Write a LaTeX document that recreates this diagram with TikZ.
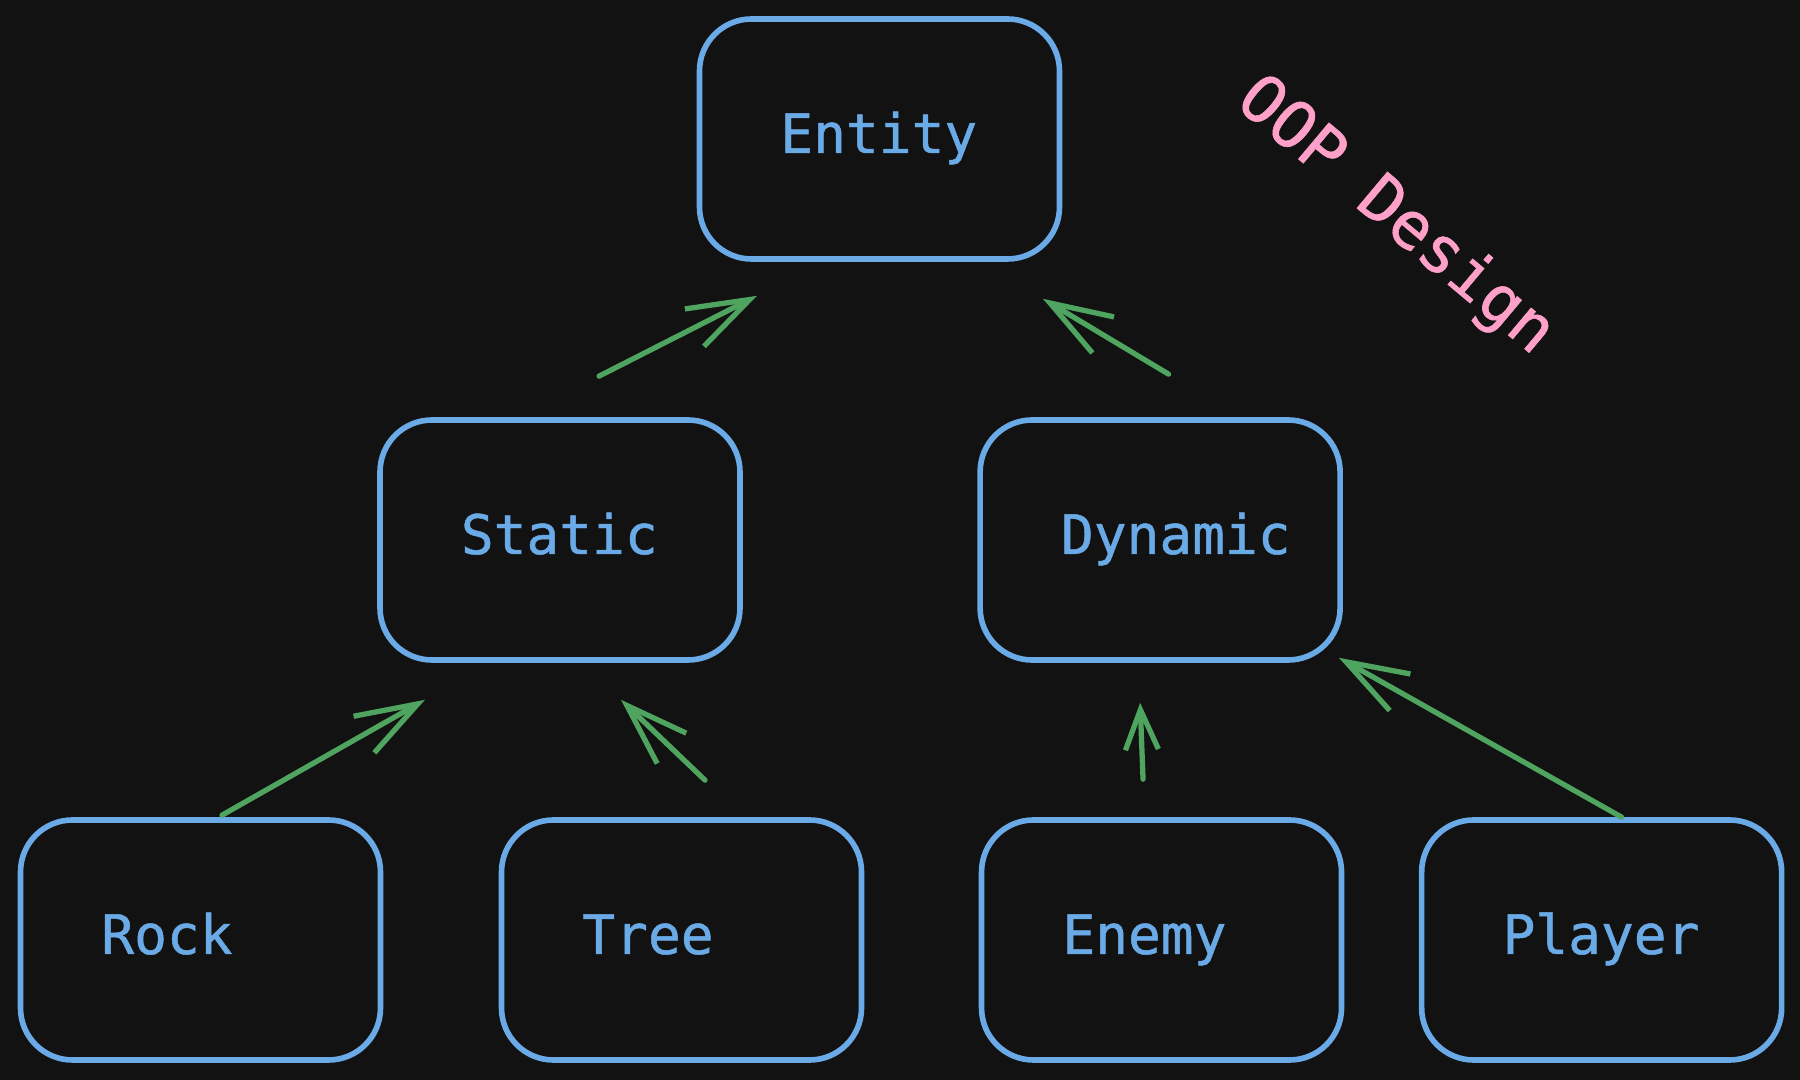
\documentclass[tikz,border=0pt]{standalone}
\usepackage{fontspec}
\setmonofont{DejaVu Sans Mono}
\newfontfamily\clsfont[FakeBold=0.9]{DejaVu Sans Mono}
\usepackage{tikz}
\usetikzlibrary{positioning,arrows.meta,calc}
\definecolor{bgc}{HTML}{121212}
\definecolor{boxc}{HTML}{6AAAE6}
\definecolor{linkc}{HTML}{4FA55F}
\definecolor{titlec}{HTML}{FFA0C8}
\tikzset{
  cls/.style={draw=boxc,line width=1.6pt,rounded corners=5.2mm,
    minimum width=3.6cm,minimum height=2.4cm,inner sep=0pt},
  lbl/.style={text=boxc,anchor=base west,inner sep=0pt,
    font=\clsfont\fontsize{15.5}{18}\selectfont},
  link/.style={draw=linkc,line width=1.5pt,line cap=round,
    -{Straight Barb[length=6.2mm,width=4.2mm]}},
  shortlink/.style={link,-{Straight Barb[length=4mm,width=3.3mm]}}
}
\begin{document}
\begin{tikzpicture}
  \fill[bgc] (0,0) rectangle (18,-10.8);
  \useasboundingbox (0,0) rectangle (18,-10.8);

  % classes
  \node [cls] (entity) at (8.795,-1.39) {};
  \node [cls] (static) at (5.6,-5.4) {};
  \node [cls,right=2.345cm of static] (dynamic) {};
  \node [cls] (rock) at (2.005,-9.4) {};
  \node [cls,right=1.154cm of rock] (tree) {};
  \node [cls,right=1.144cm of tree] (enemy) {};
  \node [cls,right=0.745cm of enemy] (player) {};

  % names
  \foreach \n/\t in {entity/Entity,static/Static,dynamic/Dynamic,rock/Rock,
                     tree/Tree,enemy/Enemy,player/Player}
    \node [lbl] (\n T) at ([xshift=0.83cm,yshift=-0.14cm]\n.west) {\t};

  % inheritance
  \draw [link] ([shift={(0.39,0.41)}]static.north) -- ([shift={(-1.225,-0.34)}]entity.south);
  \draw [link] ([shift={(0.085,0.43)}]dynamic.north) -- ([shift={(1.635,-0.37)}]entity.south);
  \draw [link] ([shift={(0.215,0.02)}]rock.north) -- ([shift={(-1.35,-0.37)}]static.south);
  \draw [link] ([shift={(0.235,0.37)}]tree.north) -- ([shift={(0.61,-0.37)}]static.south);
  \draw [shortlink] ([shift={(-0.185,0.38)}]enemy.north) -- ([shift={(-0.2,-0.40)}]dynamic.south);
  \draw [link] ([shift={(0.2,0)}]player.north) -- ([shift={(-0.04,0.05)}]dynamic.south east);

  \node [text=titlec,rotate=-40,font=\clsfont\fontsize{18.5}{21}\selectfont] (title) at (13.95,-2.17) {OOP Design};
\end{tikzpicture}
\end{document}
